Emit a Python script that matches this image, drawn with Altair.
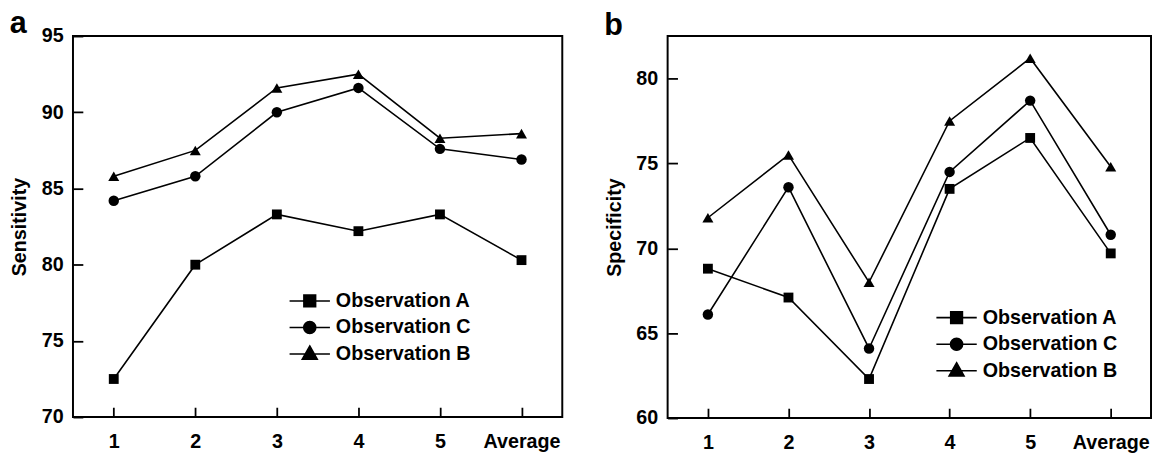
import altair as alt
import pandas as pd

categories = ["1", "2", "3", "4", "5", "Average"]
series = ["Observation A", "Observation C", "Observation B"]

sens_A = [72.5, 80.0, 83.3, 82.2, 83.3, 80.3]
sens_C = [84.2, 85.8, 90.0, 91.6, 87.6, 86.9]
sens_B = [85.8, 87.5, 91.6, 92.5, 88.3, 88.6]

spec_A = [68.8, 67.1, 62.3, 73.5, 76.5, 69.7]
spec_C = [66.1, 73.6, 64.1, 74.5, 78.7, 70.8]
spec_B = [71.8, 75.5, 68.0, 77.5, 81.2, 74.8]

sens_ticks = [70, 75, 80, 85, 90, 95]
spec_ticks = [60, 65, 70, 75, 80]

FONT = "Liberation Sans"

marker_shapes = ["square", "circle", "triangle-up"]
marker_sizes = [100, 125, 185]
legend_paths = [
    "M-1,0L1,0M-0.29,-0.29L0.29,-0.29L0.29,0.29L-0.29,0.29Z",
    "M-1,0L1,0M0.3,0A0.3,0.3 0 1,1 -0.3,0A0.3,0.3 0 1,1 0.3,0Z",
    "M-1,0L1,0M0,-0.4L0.37,0.25L-0.37,0.25Z",
]


def make_df(a, c, b):
    rows = []
    for name, vals in zip(series, [a, c, b]):
        for cat, v in zip(categories, vals):
            rows.append({"cat": cat, "series": name, "value": v})
    return pd.DataFrame(rows)


def panel(df, letter, ytitle, ydomain, yticks, w, h, legx, legy, toff):
    xscale = alt.Scale(type="point", domain=categories, padding=0.5)
    yscale = alt.Scale(domain=ydomain, nice=False, zero=False)
    base = alt.Chart(df)

    lines = base.mark_line(color="black", strokeWidth=1.6).encode(
        x=alt.X("cat:O", scale=xscale, sort=categories,
                axis=alt.Axis(orient="bottom", title=None, ticks=False, domain=False,
                              grid=False, labelAngle=0, labelFont=FONT, labelFontSize=20,
                              labelFontWeight="bold", labelColor="black", labelPadding=15)),
        y=alt.Y("value:Q", scale=yscale,
                axis=alt.Axis(orient="left", title=ytitle, values=yticks, ticks=False,
                              domain=False, grid=False, labelFont=FONT, labelFontSize=20,
                              labelFontWeight="bold", labelColor="black", labelPadding=10,
                              titleFont=FONT, titleFontSize=20, titleFontWeight="bold",
                              titleColor="black", titlePadding=12)),
        detail="series:N",
    )

    points = base.mark_point(filled=True, color="black", opacity=1).encode(
        x=alt.X("cat:O", scale=xscale, sort=categories,
                axis=alt.Axis(orient="top", offset=-h, labels=False, domain=False,
                              grid=False, title=None, tickSize=10, tickWidth=1.8,
                              tickColor="black")),
        y=alt.Y("value:Q", scale=yscale,
                axis=alt.Axis(orient="right", offset=-w, labels=False, domain=False,
                              grid=False, title=None, values=yticks, tickSize=10,
                              tickWidth=1.8, tickColor="black")),
        shape=alt.Shape("series:N", scale=alt.Scale(domain=series, range=marker_shapes),
                        legend=None),
        size=alt.Size("series:N", scale=alt.Scale(domain=series, range=marker_sizes),
                      legend=None),
    )

    legend_layer = base.transform_filter("false").mark_point(
        filled=True, fill="black", stroke="black", strokeWidth=1.6, opacity=1, size=1681
    ).encode(
        shape=alt.Shape("series:N", scale=alt.Scale(domain=series, range=legend_paths),
                        legend=alt.Legend(title=None, orient="none", legendX=legx,
                                          legendY=legy, padding=0, labelFont=FONT,
                                          labelFontSize=20, labelFontWeight="bold",
                                          labelColor="black", labelOffset=5,
                                          clipHeight=26, rowPadding=1, symbolSize=1681,
                                          symbolStrokeWidth=1.6, symbolOpacity=1)),
    )

    return alt.layer(lines, points, legend_layer).resolve_scale(
        shape="independent", size="independent"
    ).resolve_axis(x="independent", y="independent").properties(
        width=w, height=h,
        view=alt.ViewConfig(stroke="black", strokeWidth=2),
        title=alt.TitleParams(letter, anchor="start", frame="bounds", font=FONT,
                              fontSize=31, fontWeight="bold", color="black", offset=toff),
    )


pa = panel(make_df(sens_A, sens_C, sens_B), "a", "Sensitivity", [70, 95], sens_ticks,
           497, 387, 219, 256, -14)
pb = panel(make_df(spec_A, spec_C, spec_B), "b", "Specificity", [60, 82.5], spec_ticks,
           491, 388, 272, 273, -6)

chart = alt.hconcat(pa, pb, spacing=40).properties(
    padding={"left": 0, "top": -4, "right": 0, "bottom": 0}
).configure(background="white").configure_view(stroke="black", strokeWidth=2)

chart.save("out.html", embed_options={"renderer": "svg", "actions": False})
